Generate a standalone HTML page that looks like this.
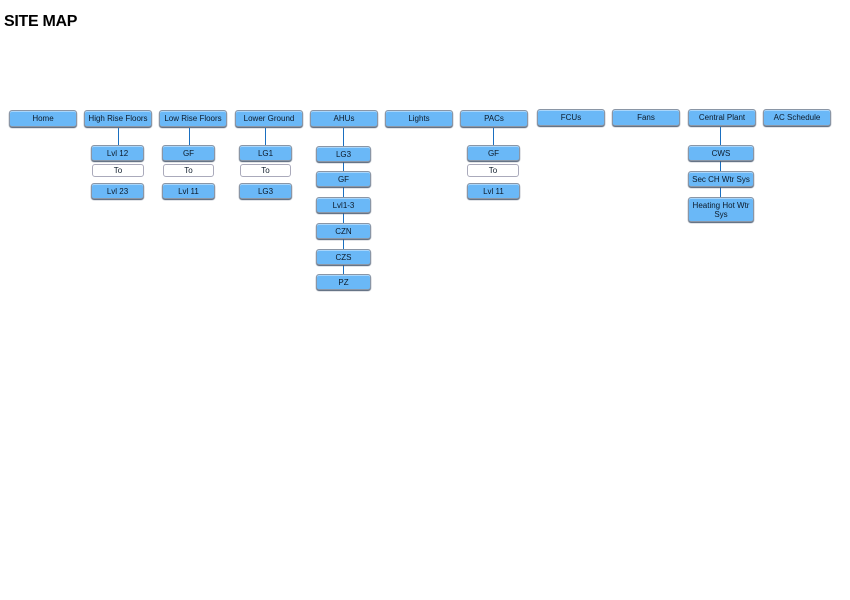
<!DOCTYPE html>
<html><head><style>
body{margin:0;width:850px;height:600px;background:#fff;position:relative;overflow:hidden;font-family:"Liberation Sans",sans-serif}
.t{position:absolute;left:4px;top:13px;font-weight:bold;font-size:16px;color:#000;letter-spacing:-0.3px}
.b{position:absolute;box-sizing:border-box;background:#6ab8f7;border:1px solid #8a96a6;border-radius:3px;box-shadow:0 1px 1px #4a5a70,inset 0 1px 0 #a9d6fb;font-size:8px;color:#0c1a2a;text-align:center;display:flex;align-items:center;justify-content:center;line-height:9px}
.w{background:#fff;box-shadow:none;border:1px solid #aab;}
.l{position:absolute;width:1px;background:#1a6fc0}
</style></head><body>
<div class="t">SITE MAP</div>
<div class="b" style="left:9px;top:110px;width:68px;height:17px">Home</div>
<div class="b" style="left:84px;top:110px;width:68px;height:17px">High Rise Floors</div>
<div class="b" style="left:159px;top:110px;width:68px;height:17px">Low Rise Floors</div>
<div class="b" style="left:235px;top:110px;width:68px;height:17px">Lower Ground</div>
<div class="b" style="left:310px;top:110px;width:68px;height:17px">AHUs</div>
<div class="b" style="left:385px;top:110px;width:68px;height:17px">Lights</div>
<div class="b" style="left:460px;top:110px;width:68px;height:17px">PACs</div>
<div class="b" style="left:537px;top:109px;width:68px;height:17px">FCUs</div>
<div class="b" style="left:612px;top:109px;width:68px;height:17px">Fans</div>
<div class="b" style="left:688px;top:109px;width:68px;height:17px">Central Plant</div>
<div class="b" style="left:763px;top:109px;width:68px;height:17px">AC Schedule</div>

<div class="l" style="left:118px;top:128px;height:17px"></div>
<div class="b" style="left:91px;top:145px;width:53px;height:16px">Lvl 12</div>
<div class="b w" style="left:92px;top:164px;width:52px;height:13px">To</div>
<div class="b" style="left:91px;top:183px;width:53px;height:16px">Lvl 23</div>

<div class="l" style="left:189px;top:128px;height:17px"></div>
<div class="b" style="left:162px;top:145px;width:53px;height:16px">GF</div>
<div class="b w" style="left:163px;top:164px;width:51px;height:13px">To</div>
<div class="b" style="left:162px;top:183px;width:53px;height:16px">Lvl 11</div>

<div class="l" style="left:265px;top:128px;height:17px"></div>
<div class="b" style="left:239px;top:145px;width:53px;height:16px">LG1</div>
<div class="b w" style="left:240px;top:164px;width:51px;height:13px">To</div>
<div class="b" style="left:239px;top:183px;width:53px;height:16px">LG3</div>

<div class="l" style="left:343px;top:128px;height:146px"></div>
<div class="b" style="left:316px;top:146px;width:55px;height:16px">LG3</div>
<div class="b" style="left:316px;top:171px;width:55px;height:16px">GF</div>
<div class="b" style="left:316px;top:197px;width:55px;height:16px">Lvl1-3</div>
<div class="b" style="left:316px;top:223px;width:55px;height:16px">CZN</div>
<div class="b" style="left:316px;top:249px;width:55px;height:16px">CZS</div>
<div class="b" style="left:316px;top:274px;width:55px;height:16px">PZ</div>

<div class="l" style="left:493px;top:128px;height:17px"></div>
<div class="b" style="left:467px;top:145px;width:53px;height:16px">GF</div>
<div class="b w" style="left:467px;top:164px;width:52px;height:13px">To</div>
<div class="b" style="left:467px;top:183px;width:53px;height:16px">Lvl 11</div>

<div class="l" style="left:720px;top:127px;height:70px"></div>
<div class="b" style="left:688px;top:145px;width:66px;height:16px">CWS</div>
<div class="b" style="left:688px;top:171px;width:66px;height:16px">Sec CH Wtr Sys</div>
<div class="b" style="left:688px;top:197px;width:66px;height:25px">Heating Hot Wtr<br>Sys</div>
</body></html>
